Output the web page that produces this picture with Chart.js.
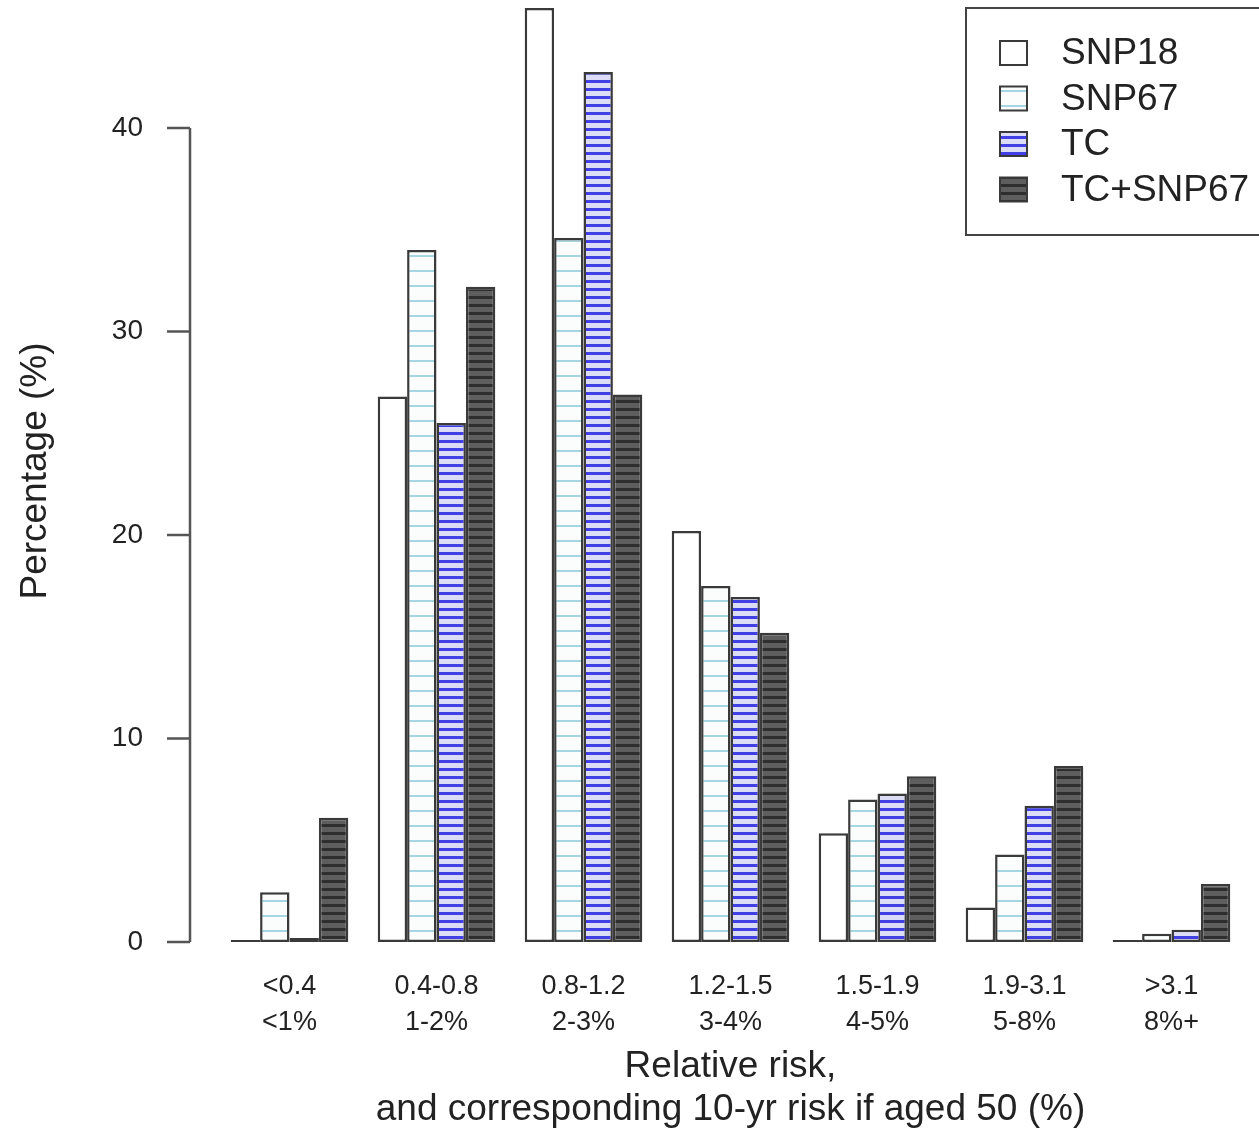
<!DOCTYPE html>
<html>
<head>
<meta charset="utf-8">
<script src="https://cdn.jsdelivr.net/npm/chart.js@4.4.1/dist/chart.umd.min.js"></script>
<style>
  html, body { margin: 0; padding: 0; background: #fff; }
  canvas { display: block; }
</style>
</head>
<body>
<canvas id="chart" width="1259" height="1134"></canvas>
<script>
// relative risk groups (two-line labels)
const riskGroups = [
  ["<0.4", "<1%"],
  ["0.4-0.8", "1-2%"],
  ["0.8-1.2", "2-3%"],
  ["1.2-1.5", "3-4%"],
  ["1.5-1.9", "4-5%"],
  ["1.9-3.1", "5-8%"],
  [">3.1", "8%+"],
];
const seriesNames = ["SNP18", "SNP67", "TC", "TC+SNP67"];
const snp18 = [0.1, 26.8, 45.9, 20.2, 5.35, 1.7, 0.1];
const snp67 = [2.45, 34.0, 34.6, 17.5, 7.0, 4.3, 0.4];
const tc = [0.2, 25.5, 42.75, 16.95, 7.3, 6.7, 0.6];
const tcSnp67 = [6.1, 32.2, 26.9, 15.2, 8.15, 8.65, 2.85];
const yTicks = [0, 10, 20, 30, 40];

// horizontal line shading like R's density fill
function stripes(bg, line, gap, lw) {
  const c = document.createElement("canvas");
  c.width = 8;
  c.height = gap;
  const g = c.getContext("2d");
  g.fillStyle = bg;
  g.fillRect(0, 0, 8, gap);
  g.fillStyle = line;
  g.fillRect(0, 0, 8, lw);
  return g.createPattern(c, "repeat");
}

const fills = [
  "#ffffff",
  stripes("#fbfdfd", "#a6d6e2", 15, 2),
  stripes("#dcdcf7", "#4040e4", 8, 3),
  stripes("#5e5e5e", "#2e2e2e", 8, 3),
];
const seriesData = [snp18, snp67, tc, tcSnp67];

const ink = "#222";
const edge = "#3a3a3a";

// R-style y axis: line only from first to last tick
const rAxis = {
  id: "rAxis",
  afterDraw(chart) {
    const ctx = chart.ctx;
    const y = chart.scales.y;
    const x0 = chart.chartArea.left - 26;
    ctx.save();
    ctx.strokeStyle = "#555";
    ctx.lineWidth = 2.5;
    ctx.beginPath();
    ctx.moveTo(x0, y.getPixelForValue(yTicks[0]));
    ctx.lineTo(x0, y.getPixelForValue(yTicks[yTicks.length - 1]));
    yTicks.forEach((v) => {
      const py = y.getPixelForValue(v);
      ctx.moveTo(x0 - 23, py);
      ctx.lineTo(x0, py);
    });
    ctx.stroke();
    ctx.restore();
  },
};

// boxed legend in the top-right corner
const boxLegend = {
  id: "boxLegend",
  afterDraw(chart) {
    const ctx = chart.ctx;
    ctx.save();
    ctx.strokeStyle = "#444";
    ctx.lineWidth = 2;
    ctx.strokeRect(966, 8, 320, 227);
    ctx.font = "37px 'Liberation Sans', Arial, sans-serif";
    ctx.textBaseline = "middle";
    ctx.textAlign = "left";
    chart.data.datasets.forEach((ds, i) => {
      const cy = 53 + i * 45.5;
      ctx.fillStyle = ds.backgroundColor;
      ctx.fillRect(1000, cy - 12, 27, 24);
      ctx.strokeStyle = edge;
      ctx.lineWidth = 2;
      ctx.strokeRect(1000, cy - 12, 27, 24);
      ctx.fillStyle = ink;
      ctx.fillText(ds.label, 1061, cy + 1);
    });
    ctx.restore();
  },
};

new Chart(document.getElementById("chart").getContext("2d"), {
  type: "bar",
  data: {
    labels: riskGroups,
    datasets: seriesNames.map((name, i) => ({
      label: name,
      data: seriesData[i],
      backgroundColor: fills[i],
      borderColor: edge,
      borderWidth: 2.5,
      borderSkipped: false,
      categoryPercentage: 0.8,
      barPercentage: 1.0,
    })),
  },
  options: {
    responsive: false,
    animation: false,
    layout: { padding: { top: 0, right: 14, bottom: 0, left: 0 } },
    plugins: {
      legend: { display: false },
      tooltip: { enabled: false },
    },
    scales: {
      x: {
        offset: true,
        grid: { display: false, drawTicks: false },
        border: { display: false },
        ticks: {
          color: ink,
          padding: 27,
          maxRotation: 0,
          autoSkip: false,
          font: { family: "'Liberation Sans', Arial, sans-serif", size: 27, lineHeight: "36px" },
        },
        title: {
          display: true,
          text: ["Relative risk,", "and corresponding 10-yr risk if aged 50 (%)"],
          color: ink,
          padding: { top: 0, bottom: 3 },
          font: { family: "'Liberation Sans', Arial, sans-serif", size: 37, lineHeight: "43px" },
        },
        afterFit(scale) {
          scale.height = 192;
          scale.paddingLeft = 0;
          scale.paddingRight = 0;
        },
      },
      y: {
        min: 0,
        max: 46.29,
        grid: { display: false, drawTicks: false },
        border: { display: false },
        afterBuildTicks(scale) {
          scale.ticks = yTicks.map((v) => ({ value: v }));
        },
        ticks: {
          color: ink,
          padding: 73,
          font: { family: "'Liberation Sans', Arial, sans-serif", size: 28 },
        },
        title: {
          display: true,
          text: "Percentage (%)",
          color: ink,
          padding: { top: 14, bottom: 0 },
          font: { family: "'Liberation Sans', Arial, sans-serif", size: 37 },
        },
        afterFit(scale) {
          scale.width = 216;
          scale.paddingTop = 0;
          scale.paddingBottom = 0;
        },
      },
    },
  },
  plugins: [rAxis, boxLegend],
});
</script>
</body>
</html>
